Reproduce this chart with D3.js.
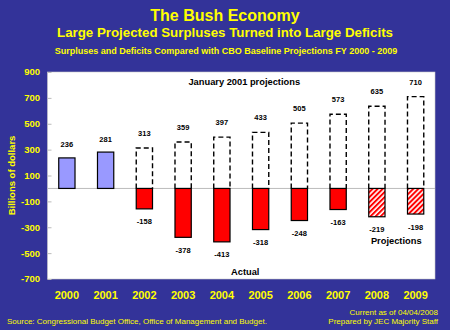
<!DOCTYPE html>
<html>
<head>
<meta charset="utf-8">
<script src="https://cdn.jsdelivr.net/npm/d3@7"></script>
<style>
    body { margin: 0; background: #333399; }
    svg { display: block; font-family: "Liberation Sans", Arial, sans-serif; }
    .yellow { fill: #ffff00; }
    .bold { font-weight: bold; }
    .val { font-size: 7.5px; font-weight: bold; fill: #000; text-anchor: middle; }
    .note { font-size: 9.3px; font-weight: bold; fill: #000; text-anchor: middle; }
</style>
</head>
<body>
<svg id="chart" width="450" height="330"></svg>
<script>
    // data
    const years = [2000, 2001, 2002, 2003, 2004, 2005, 2006, 2007, 2008, 2009];
    const actual = [236, 281, -158, -378, -413, -318, -248, -163, -219, -198];
    const projected = [null, null, 313, 359, 397, 433, 505, 573, 635, 710];
    const projectedYears = [2008, 2009];
    const yTicks = [900, 700, 500, 300, 100, -100, -300, -500, -700];

    const plot = {left: 47.5, right: 435, top: 72, bottom: 279};

    const svg = d3.select("#chart");

    // background
    svg.append("rect").attr("width", 450).attr("height", 330).attr("fill", "#333399");

    // hatch for projected deficits
    const defs = svg.append("defs");
    const pat = defs.append("pattern")
        .attr("id", "hatch")
        .attr("patternUnits", "userSpaceOnUse")
        .attr("width", 3.6).attr("height", 3.6)
        .attr("patternTransform", "rotate(45)");
    pat.append("rect").attr("width", 3.6).attr("height", 3.6).attr("fill", "#fff");
    pat.append("rect").attr("width", 2).attr("height", 3.6).attr("fill", "#ff0000");

    // titles
    svg.append("text").attr("class", "yellow bold").attr("x", 225).attr("y", 20.5)
        .attr("text-anchor", "middle").style("font-size", "16px").text("The Bush Economy");
    svg.append("text").attr("class", "yellow bold").attr("x", 225).attr("y", 37)
        .attr("text-anchor", "middle").style("font-size", "13.3px")
        .text("Large Projected Surpluses Turned into Large Deficits");
    svg.append("text").attr("class", "yellow bold").attr("x", 226).attr("y", 53.5)
        .attr("text-anchor", "middle").style("font-size", "9px")
        .text("Surpluses and Deficits Compared with CBO Baseline Projections FY 2000 - 2009");

    // plot area
    svg.append("rect")
        .attr("x", plot.left).attr("y", plot.top)
        .attr("width", plot.right - plot.left).attr("height", plot.bottom - plot.top)
        .attr("fill", "#fff").attr("stroke", "#c8c8c8").attr("stroke-width", 0.6);

    const x = d3.scaleBand().domain(years).range([plot.left, plot.right])
        .paddingInner(0.58).paddingOuter(0.29);
    const y = d3.scaleLinear().domain([-700, 900]).range([plot.bottom, plot.top]);
    const bw = x.bandwidth();

    // y axis
    const yAxis = svg.append("g").attr("transform", "translate(" + plot.left + ",0)")
        .call(d3.axisRight(y).tickValues(yTicks).tickSize(4).tickFormat(""));
    yAxis.select(".domain").remove();
    yAxis.selectAll("line").attr("stroke", "#bbb");

    svg.selectAll("text.ytick").data(yTicks).enter()
        .append("text")
            .attr("class", "ytick yellow bold")
            .attr("x", 40)
            .attr("y", d => y(d) + 3.4)
            .attr("text-anchor", "end")
            .style("font-size", "9.5px")
            .text(d => d);

    svg.append("text").attr("class", "yellow bold")
        .attr("transform", "translate(14.5," + ((plot.top + plot.bottom) / 2) + ") rotate(-90)")
        .attr("text-anchor", "middle").style("font-size", "9.5px")
        .text("Billions of dollars");

    // x labels
    svg.selectAll("text.xtick").data(years).enter()
        .append("text")
            .attr("class", "xtick yellow bold")
            .attr("x", d => x(d) + bw / 2)
            .attr("y", 299)
            .attr("text-anchor", "middle")
            .style("font-size", "11px")
            .text(d => d);

    // zero line
    svg.append("line")
        .attr("x1", plot.left).attr("x2", plot.right)
        .attr("y1", y(0)).attr("y2", y(0))
        .attr("stroke", "#bbb").attr("stroke-width", 1);

    const rows = years.map((yr, i) => ({year: yr, actual: actual[i], proj: projected[i]}));
    const projRows = rows.filter(d => d.proj !== null);

    // dashed January 2001 projection boxes
    svg.selectAll("path.proj").data(projRows).enter()
        .append("path")
            .attr("class", "proj")
            .attr("d", d => "M" + x(d.year) + "," + y(0) + "V" + y(d.proj) + "H" + (x(d.year) + bw) + "V" + y(0))
            .attr("fill", "none")
            .attr("stroke", "#000")
            .attr("stroke-width", 1.4)
            .attr("stroke-dasharray", "5,3");

    svg.selectAll("text.projval").data(projRows).enter()
        .append("text")
            .attr("class", "val projval")
            .attr("x", d => x(d.year) + bw / 2)
            .attr("y", d => y(d.proj) - 12)
            .text(d => d.proj);

    // actual / projected surplus-deficit bars
    svg.selectAll("rect.bar").data(rows).enter()
        .append("rect")
            .attr("class", "bar")
            .attr("x", d => x(d.year))
            .attr("y", d => y(Math.max(0, d.actual)))
            .attr("width", bw)
            .attr("height", d => Math.abs(y(d.actual) - y(0)))
            .attr("fill", d => d.actual > 0 ? "#9999ff" : (projectedYears.includes(d.year) ? "url(#hatch)" : "#ff0000"))
            .attr("stroke", "#000")
            .attr("stroke-width", 1.2);

    svg.selectAll("text.barval").data(rows).enter()
        .append("text")
            .attr("class", "val barval")
            .attr("x", d => x(d.year) + bw / 2)
            .attr("y", d => d.actual > 0 ? y(d.actual) - 10.5 : y(d.actual) + 15.5)
            .text(d => d.actual);

    // annotations
    svg.append("text").attr("class", "note")
        .attr("x", (plot.left + plot.right) / 2 + 3).attr("y", y(800))
        .text("January 2001 projections");
    svg.append("text").attr("class", "note")
        .attr("x", (x(2004) + x(2005)) / 2 + bw / 2 + 4).attr("y", y(-670))
        .text("Actual");
    svg.append("text").attr("class", "note")
        .attr("x", (x(2008) + x(2009)) / 2 + bw / 2).attr("y", y(-432))
        .text("Projections");

    // footer
    svg.append("text").attr("class", "yellow").attr("x", 7).attr("y", 324)
        .style("font-size", "8px")
        .text("Source: Congressional Budget Office, Office of Management and Budget.");
    svg.append("text").attr("class", "yellow").attr("x", 438).attr("y", 314.5)
        .attr("text-anchor", "end").style("font-size", "8px")
        .text("Current as of 04/04/2008");
    svg.append("text").attr("class", "yellow").attr("x", 438).attr("y", 324)
        .attr("text-anchor", "end").style("font-size", "8px")
        .text("Prepared by JEC Majority Staff");
</script>
</body>
</html>
